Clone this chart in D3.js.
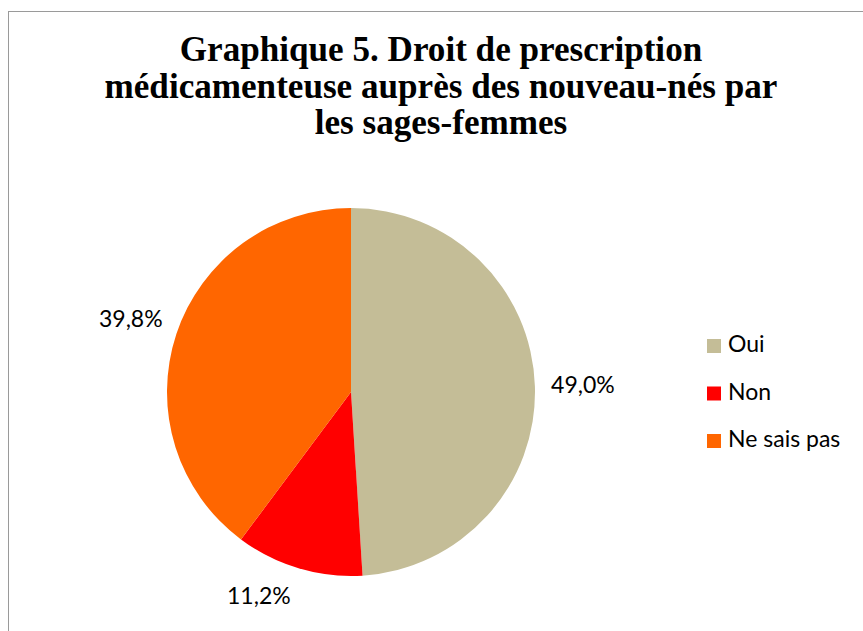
<!DOCTYPE html>
<html>
<head>
<meta charset="utf-8">
<script src="https://cdn.jsdelivr.net/npm/d3@7"></script>
<style>
  body { margin: 0; background: #fff; }
  svg { display: block; }
</style>
</head>
<body>
<div id="chart"></div>
<script>
const svgWidth = 863;
const svgHeight = 631;

const titleLines = ['Graphique 5. Droit de prescription', 'médicamenteuse auprès des nouveau-nés par', 'les sages-femmes'];
const categories = ['Oui', 'Non', 'Ne sais pas'];
const values = [49.0, 11.2, 39.8];
const colors = ['#C4BD97', '#FF0000', '#FF6600'];

const cx = 351, cy = 392, radius = 184;

const svg = d3.select('#chart')
    .append('svg')
    .attr('width', svgWidth)
    .attr('height', svgHeight);

// chart frame
svg.append('rect')
    .attr('x', 8.5)
    .attr('y', 11.5)
    .attr('width', 900)
    .attr('height', 700)
    .attr('fill', 'none')
    .attr('stroke', '#9a9a9a')
    .attr('stroke-width', 1);

// title
const title = svg.append('g').attr('class', 'title');
title.selectAll('text')
    .data(titleLines)
    .join('text')
    .attr('x', 441)
    .attr('y', (d, i) => 61 + i * 36.5)
    .attr('text-anchor', 'middle')
    .attr('font-family', '"Liberation Serif", serif')
    .attr('font-weight', 'bold')
    .attr('font-size', 30)
    .attr('fill', '#000')
    .text(d => d);

// fit second line width to the reference
const w = title.selectAll('text').nodes()[1].getComputedTextLength();
title.selectAll('text').attr('font-size', 30 * 673 / w);

const color = d3.scaleOrdinal().domain(categories).range(colors);

const pie = d3.pie().sort(null).value(d => d.value);
const arcs = pie(categories.map((c, i) => ({ name: c, value: values[i] })));

const arc = d3.arc().innerRadius(0).outerRadius(radius);
const labelArc = d3.arc().innerRadius(232).outerRadius(232);

const g = svg.append('g').attr('transform', `translate(${cx},${cy})`);

g.selectAll('path')
    .data(arcs)
    .join('path')
    .attr('d', arc)
    .attr('fill', d => color(d.data.name));

const fmt = v => d3.format('.1f')(v).replace('.', ',') + '%';

g.selectAll('text')
    .data(arcs)
    .join('text')
    .attr('transform', d => {
        const [x, y] = labelArc.centroid(d);
        // Excel best-fit nudges the small slice label left
        return d.data.name === 'Non' ? `translate(${x - 26},${y - 18})` : `translate(${x},${y})`;
    })
    .attr('text-anchor', 'middle')
    .attr('dy', '0.35em')
    .attr('font-family', 'Lato, sans-serif')
    .attr('font-size', 23)
    .attr('fill', '#000')
    .text(d => fmt(d.data.value));

// legend
const legend = svg.append('g')
    .attr('transform', 'translate(707,339)')
    .selectAll('g')
    .data(categories)
    .join('g')
    .attr('transform', (d, i) => `translate(0,${i * 47.5})`);

legend.append('rect')
    .attr('width', 14)
    .attr('height', 14)
    .attr('fill', d => color(d));

legend.append('text')
    .attr('x', 21)
    .attr('y', 5)
    .attr('dy', '0.35em')
    .attr('font-family', 'Lato, sans-serif')
    .attr('font-size', 23)
    .attr('fill', '#000')
    .text(d => d);
</script>
</body>
</html>
